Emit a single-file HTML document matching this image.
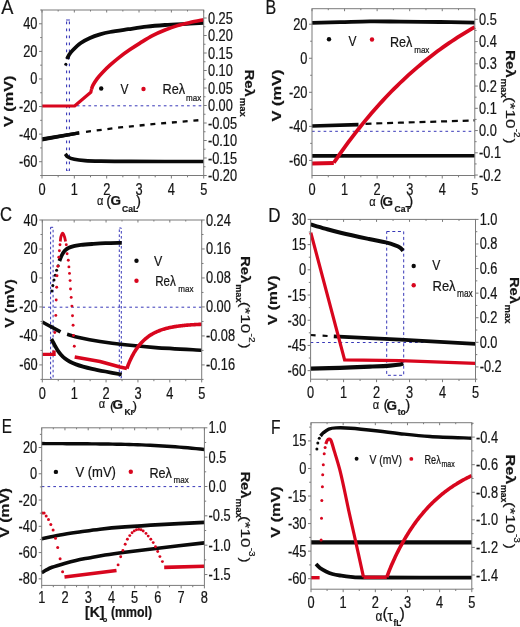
<!DOCTYPE html><html><head><meta charset="utf-8"><style>html,body{margin:0;padding:0;background:#fff;}svg{display:block;}text{font-family:"Liberation Sans",sans-serif;stroke:#151515;stroke-width:0.22px;}</style></head><body>
<svg style="will-change:transform" width="520" height="627" viewBox="0 0 520 627">
<rect width="520" height="627" fill="#fff"/>
<path d="M66.6,21.5 L66.6,170" fill="none" stroke="#3838b8" stroke-width="1.1" stroke-linecap="butt" stroke-linejoin="round" stroke-dasharray="2.8,4.2"/>
<path d="M69.4,21.5 L69.4,170" fill="none" stroke="#3838b8" stroke-width="1.1" stroke-linecap="butt" stroke-linejoin="round" stroke-dasharray="2.8,4.2"/>
<path d="M66.1,20 L69.9,20" fill="none" stroke="#3838b8" stroke-width="1" stroke-linecap="butt" stroke-linejoin="round"/>
<path d="M66.1,170.5 L69.9,170.5" fill="none" stroke="#3838b8" stroke-width="1" stroke-linecap="butt" stroke-linejoin="round" stroke-dasharray="1.5,1"/>
<path d="M42,105.8 L203.7,105.8" fill="none" stroke="#3838b8" stroke-width="1" stroke-linecap="butt" stroke-linejoin="round" stroke-dasharray="2.7,3.1"/>
<path d="M67,59 C67.33,58.33 68.08,56.42 69,55 C69.92,53.58 70.53,52.5 72.5,50.5 C74.47,48.5 77.88,45.08 80.8,43 C83.72,40.92 86.8,39.43 90,38 C93.2,36.57 96.67,35.4 100,34.4 C103.33,33.4 105.28,32.87 110,32 C114.72,31.13 122.2,30.1 128.3,29.2 C134.4,28.3 140.48,27.3 146.6,26.6 C152.72,25.9 157.77,25.5 165,25 C172.23,24.5 183.55,23.97 190,23.6 C196.45,23.23 201.42,22.93 203.7,22.8" fill="none" stroke="#0a0a0a" stroke-width="3.8" stroke-linecap="butt" stroke-linejoin="round"/>
<circle cx="65.8" cy="64.2" r="1.5" fill="#0a0a0a"/>
<path d="M42,137.2 L79.2,131.2 L79.2,134.6 L42,141.6 Z" fill="#0a0a0a"/>
<path d="M42,139.4 L79.2,132.9" fill="none" stroke="#0a0a0a" stroke-width="3.4" stroke-linecap="butt" stroke-linejoin="round"/>
<path d="M86,131.8 L120,127.4 L160,123.5 L203.7,119.8" fill="none" stroke="#0a0a0a" stroke-width="2.3" stroke-linecap="butt" stroke-linejoin="round" stroke-dasharray="5,5.8"/>
<path d="M65.3,153.8 C65.75,154.33 66.5,156.08 68,157 C69.5,157.92 71.47,158.7 74.3,159.3 C77.13,159.9 80.72,160.3 85,160.6 C89.28,160.9 92.5,160.97 100,161.1 C107.5,161.23 112.72,161.33 130,161.4 C147.28,161.47 191.42,161.48 203.7,161.5" fill="none" stroke="#0a0a0a" stroke-width="3.6" stroke-linecap="butt" stroke-linejoin="round"/>
<path d="M42,106 L74.6,106 L90.8,92.3 L91.5,89.2" fill="none" stroke="#d8061e" stroke-width="3.2" stroke-linecap="butt" stroke-linejoin="round"/>
<path d="M91.5,89.2 C91.75,88.53 92.08,86.93 93,85.2 C93.92,83.47 95.45,80.88 97,78.8 C98.55,76.72 100.13,74.97 102.3,72.7 C104.47,70.43 107.12,67.8 110,65.2 C112.88,62.6 116.27,59.7 119.6,57.1 C122.93,54.5 126.6,51.93 130,49.6 C133.4,47.27 136.25,45.43 140,43.1 C143.75,40.77 148.33,37.78 152.5,35.6 C156.67,33.42 160.83,31.67 165,30 C169.17,28.33 173.33,26.85 177.5,25.6 C181.67,24.35 185.63,23.48 190,22.5 C194.37,21.52 201.42,20.21 203.7,19.75" fill="none" stroke="#d8061e" stroke-width="3.6" stroke-linecap="butt" stroke-linejoin="round"/>
<circle cx="101.2" cy="88.5" r="2.2" fill="#0a0a0a"/>
<text transform="translate(120.6,93.9) scale(0.77,1)" font-size="15.5" font-weight="normal" text-anchor="start" fill="#151515">V</text>
<circle cx="143.5" cy="89" r="2.2" fill="#d8061e"/>
<text transform="translate(162.6,93.9) scale(0.82,1)" font-size="15.5" font-weight="normal" text-anchor="start" fill="#151515" textLength="27.56" lengthAdjust="spacingAndGlyphs">Reλ</text>
<text transform="translate(186,101.1) scale(0.82,1)" font-size="9.8" font-weight="normal" text-anchor="start" fill="#151515">max</text>
<path d="M312,131.3 L474.8,131.3" fill="none" stroke="#3838b8" stroke-width="1" stroke-linecap="butt" stroke-linejoin="round" stroke-dasharray="2.7,3.1"/>
<path d="M312,22.8 C316.67,22.7 330.33,22.43 340,22.2 C349.67,21.97 360,21.5 370,21.4 C380,21.3 388.33,21.5 400,21.6 C411.67,21.7 427.53,21.83 440,22 C452.47,22.17 469,22.5 474.8,22.6" fill="none" stroke="#0a0a0a" stroke-width="3.8" stroke-linecap="butt" stroke-linejoin="round"/>
<path d="M312,126 L358.5,124.6" fill="none" stroke="#0a0a0a" stroke-width="3.6" stroke-linecap="butt" stroke-linejoin="round"/>
<path d="M365.5,123.8 L400,122.7 L440,121.5 L474.8,120.4" fill="none" stroke="#0a0a0a" stroke-width="2.2" stroke-linecap="butt" stroke-linejoin="round" stroke-dasharray="6,4.8"/>
<path d="M312,155.9 L474.8,155.8" fill="none" stroke="#0a0a0a" stroke-width="3.6" stroke-linecap="butt" stroke-linejoin="round"/>
<path d="M312,163.5 L333.8,163" fill="none" stroke="#d8061e" stroke-width="3.8" stroke-linecap="butt" stroke-linejoin="round"/>
<path d="M333.8,162.78 L336.68,158.57 L339.56,154.43 L342.43,150.37 L345.31,146.38 L348.19,142.46 L351.07,138.61 L353.94,134.82 L356.82,131.11 L359.7,127.46 L362.58,123.88 L365.45,120.37 L368.33,116.92 L371.21,113.53 L374.09,110.21 L376.96,106.95 L379.84,103.75 L382.72,100.61 L385.6,97.53 L388.47,94.51 L391.35,91.55 L394.23,88.65 L397.11,85.8 L399.98,83 L402.86,80.26 L405.74,77.58 L408.62,74.95 L411.49,72.37 L414.37,69.84 L417.25,67.36 L420.13,64.93 L423,62.55 L425.88,60.21 L428.76,57.93 L431.64,55.69 L434.51,53.49 L437.39,51.34 L440.27,49.23 L443.15,47.17 L446.02,45.15 L448.9,43.16 L451.78,41.22 L454.66,39.32 L457.53,37.46 L460.41,35.63 L463.29,33.84 L466.17,32.09 L469.04,30.37 L471.92,28.68 L474.8,27.03" fill="none" stroke="#d8061e" stroke-width="3.8" stroke-linecap="butt" stroke-linejoin="round"/>
<circle cx="329" cy="39.3" r="2.2" fill="#0a0a0a"/>
<text transform="translate(348.4,46.3) scale(0.77,1)" font-size="15.5" font-weight="normal" text-anchor="start" fill="#151515">V</text>
<circle cx="372" cy="39.5" r="2.2" fill="#d8061e"/>
<text transform="translate(390,46.6) scale(0.82,1)" font-size="15.5" font-weight="normal" text-anchor="start" fill="#151515" textLength="27.32" lengthAdjust="spacingAndGlyphs">Reλ</text>
<text transform="translate(414.2,52.6) scale(0.82,1)" font-size="9.8" font-weight="normal" text-anchor="start" fill="#151515">max</text>
<rect x="50.6" y="227.3" width="2.5" height="151" fill="none" stroke="#3838b8" stroke-width="1" stroke-dasharray="2.6,2.4"/>
<rect x="119.3" y="228" width="2" height="150" fill="none" stroke="#3838b8" stroke-width="1" stroke-dasharray="2.6,2.4"/>
<path d="M42.3,307.2 L201.7,307.2" fill="none" stroke="#3838b8" stroke-width="1" stroke-linecap="butt" stroke-linejoin="round" stroke-dasharray="2.7,3.1"/>
<circle cx="51.8" cy="291" r="1.5" fill="#0a0a0a"/>
<circle cx="52.8" cy="285.4" r="1.5" fill="#0a0a0a"/>
<circle cx="54" cy="280" r="1.5" fill="#0a0a0a"/>
<circle cx="55.2" cy="275.2" r="1.5" fill="#0a0a0a"/>
<circle cx="56.6" cy="270.2" r="1.5" fill="#0a0a0a"/>
<circle cx="58.2" cy="265.7" r="1.5" fill="#0a0a0a"/>
<path d="M59.4,261 C59.78,260.08 60.82,257.22 61.7,255.5 C62.58,253.78 63.5,252 64.7,250.7 C65.9,249.4 67.2,248.5 68.9,247.7 C70.6,246.9 72.9,246.37 74.9,245.9 C76.9,245.43 78.05,245.22 80.9,244.9 C83.75,244.58 87.92,244.28 92,244 C96.08,243.72 100.45,243.4 105.4,243.2 C110.35,243 118.98,242.87 121.7,242.8" fill="none" stroke="#0a0a0a" stroke-width="3.8" stroke-linecap="butt" stroke-linejoin="round"/>
<path d="M42.3,322 C43.58,322.7 46.97,324.55 50,326.2 C53.03,327.85 58.75,330.95 60.5,331.9" fill="none" stroke="#0a0a0a" stroke-width="3.6" stroke-linecap="butt" stroke-linejoin="round"/>
<path d="M67.1,334.3 C69.25,334.88 74.52,336.6 80,337.8 C85.48,339 92.5,340.33 100,341.5 C107.5,342.67 115.72,343.78 125,344.8 C134.28,345.82 142.92,346.7 155.7,347.6 C168.48,348.5 194.03,349.77 201.7,350.2" fill="none" stroke="#0a0a0a" stroke-width="3.6" stroke-linecap="butt" stroke-linejoin="round"/>
<path d="M51.4,339 C51.75,339.67 52.78,341.67 53.5,343 C54.22,344.33 54.95,345.7 55.7,347 C56.45,348.3 57.12,349.52 58,350.8 C58.88,352.08 59.83,353.4 61,354.7 C62.17,356 63.5,357.42 65,358.6 C66.5,359.78 68.17,360.83 70,361.8 C71.83,362.77 73.83,363.6 76,364.4 C78.17,365.2 80.33,365.87 83,366.6 C85.67,367.33 88.27,367.98 92,368.8 C95.73,369.62 100.45,370.55 105.4,371.5 C110.35,372.45 118.98,374 121.7,374.5" fill="none" stroke="#0a0a0a" stroke-width="3.8" stroke-linecap="butt" stroke-linejoin="round"/>
<path d="M42.3,354.4 L54,354.4 L54,350.5" fill="none" stroke="#d8061e" stroke-width="3.4" stroke-linecap="butt" stroke-linejoin="miter"/>
<circle cx="60" cy="244.7" r="1.45" fill="#d8061e"/>
<circle cx="59.4" cy="250.7" r="1.45" fill="#d8061e"/>
<circle cx="58.8" cy="257.3" r="1.45" fill="#d8061e"/>
<circle cx="57.9" cy="266.3" r="1.45" fill="#d8061e"/>
<circle cx="57" cy="275.8" r="1.45" fill="#d8061e"/>
<circle cx="56.7" cy="287.2" r="1.45" fill="#d8061e"/>
<circle cx="56.2" cy="300" r="1.45" fill="#d8061e"/>
<circle cx="55.8" cy="315.4" r="1.45" fill="#d8061e"/>
<circle cx="54.8" cy="332.5" r="1.45" fill="#d8061e"/>
<circle cx="66.3" cy="244.7" r="1.45" fill="#d8061e"/>
<circle cx="67.1" cy="253.7" r="1.45" fill="#d8061e"/>
<circle cx="68.3" cy="260.3" r="1.45" fill="#d8061e"/>
<circle cx="68.9" cy="266.9" r="1.45" fill="#d8061e"/>
<circle cx="69.5" cy="273.4" r="1.45" fill="#d8061e"/>
<circle cx="70.1" cy="280.6" r="1.45" fill="#d8061e"/>
<circle cx="70.5" cy="289" r="1.45" fill="#d8061e"/>
<circle cx="71.2" cy="297.4" r="1.45" fill="#d8061e"/>
<circle cx="71.9" cy="306.1" r="1.45" fill="#d8061e"/>
<circle cx="72.5" cy="315.7" r="1.45" fill="#d8061e"/>
<circle cx="73.1" cy="325.3" r="1.45" fill="#d8061e"/>
<circle cx="73.5" cy="335.5" r="1.45" fill="#d8061e"/>
<circle cx="74.3" cy="346.2" r="1.45" fill="#d8061e"/>
<path d="M60.3,241.5 C60.42,240.67 60.6,237.88 61,236.5 C61.4,235.12 62.13,233.2 62.7,233.2 C63.27,233.2 63.92,235.12 64.4,236.5 C64.88,237.88 65.4,240.67 65.6,241.5" fill="none" stroke="#d8061e" stroke-width="2.8" stroke-linecap="butt" stroke-linejoin="round"/>
<path d="M74.7,357 L100,361.6 L120,367 L126.9,368.5" fill="none" stroke="#d8061e" stroke-width="3.6" stroke-linecap="butt" stroke-linejoin="round"/>
<path d="M126.9,368.55 L127.65,366.37 L128.4,364.41 L129.15,362.58 L129.9,360.85 L130.65,359.21 L131.4,357.66 L132.15,356.19 L132.9,354.79 L133.65,353.45 L134.4,352.18 L135.15,350.96 L135.9,349.81 L136.65,348.7 L137.4,347.64 L138.15,346.63 L138.9,345.67 L139.65,344.75 L140.4,343.87 L141.15,343.02 L141.9,342.22 L142.65,341.45 L143.4,340.71 L144.15,340 L144.9,339.33 L145.65,338.68 L146.4,338.06 L147.15,337.47 L147.9,336.9 L148.65,336.35 L149.4,335.83 L150.15,335.33 L150.9,334.85 L151.65,334.4 L152.4,333.96 L153.15,333.53 L153.9,333.13 L154.65,332.74 L155.4,332.37 L156.15,332.02 L156.9,331.68 L157.65,331.35 L158.4,331.04 L159.15,330.74 L159.9,330.45 L160.65,330.17 L161.4,329.91 L162.15,329.65 L162.9,329.41 L163.65,329.17 L164.4,328.95 L165.15,328.73 L165.9,328.53 L166.65,328.33 L167.4,328.14 L168.15,327.96 L168.9,327.78 L169.65,327.61 L170.4,327.45 L171.15,327.3 L171.9,327.15 L172.65,327.01 L173.4,326.87 L174.15,326.74 L174.9,326.61 L175.65,326.49 L176.4,326.38 L177.15,326.26 L177.9,326.16 L178.65,326.05 L179.4,325.96 L180.15,325.86 L180.9,325.77 L181.65,325.68 L182.4,325.6 L183.15,325.52 L183.9,325.44 L184.65,325.37 L185.4,325.3 L186.15,325.23 L186.9,325.16 L187.65,325.1 L188.4,325.04 L189.15,324.98 L189.9,324.92 L190.65,324.87 L191.4,324.82 L192.15,324.77 L192.9,324.72 L193.65,324.68 L194.4,324.63 L195.15,324.59 L195.9,324.55 L196.65,324.51 L197.4,324.47 L198.15,324.44 L198.9,324.4 L199.65,324.37 L200.4,324.34 L201.15,324.31 L201.9,324.28" fill="none" stroke="#d8061e" stroke-width="3.6" stroke-linecap="butt" stroke-linejoin="round"/>
<circle cx="136.5" cy="260.7" r="2.2" fill="#0a0a0a"/>
<text transform="translate(154,266) scale(0.8,1)" font-size="15.5" font-weight="normal" text-anchor="start" fill="#151515">V</text>
<circle cx="136.5" cy="280.7" r="2.2" fill="#d8061e"/>
<text transform="translate(155.2,286) scale(0.82,1)" font-size="15.5" font-weight="normal" text-anchor="start" fill="#151515" textLength="25.24" lengthAdjust="spacingAndGlyphs">Reλ</text>
<text transform="translate(178.3,292) scale(0.82,1)" font-size="9.8" font-weight="normal" text-anchor="start" fill="#151515">max</text>
<rect x="386.7" y="231.5" width="17" height="143.8" fill="none" stroke="#3838b8" stroke-width="1" stroke-dasharray="3,2.6"/>
<path d="M310.6,342.5 L475.5,342.5" fill="none" stroke="#3838b8" stroke-width="1" stroke-linecap="butt" stroke-linejoin="round" stroke-dasharray="2.7,3.1"/>
<path d="M310.6,224.3 C313,225.02 319.83,227.15 325,228.6 C330.17,230.05 334.27,231.27 341.6,233 C348.93,234.73 361.63,237.43 369,239 C376.37,240.57 381.3,241.3 385.8,242.4 C390.3,243.5 393.63,244.73 396,245.6 C398.37,246.47 398.8,246.77 400,247.6 C401.2,248.43 402.67,250.1 403.2,250.6" fill="none" stroke="#0a0a0a" stroke-width="4.0" stroke-linecap="butt" stroke-linejoin="round"/>
<path d="M310.6,335 L333.8,336.4" fill="none" stroke="#0a0a0a" stroke-width="2.2" stroke-linecap="butt" stroke-linejoin="round" stroke-dasharray="5,7"/>
<path d="M333.8,336.4 L400,339.7 L475.5,343.9" fill="none" stroke="#0a0a0a" stroke-width="3.8" stroke-linecap="butt" stroke-linejoin="round"/>
<path d="M310.6,368.6 C315.5,368.47 330.1,368.13 340,367.8 C349.9,367.47 361.67,366.97 370,366.6 C378.33,366.23 385,365.95 390,365.6 C395,365.25 397.8,364.9 400,364.5 C402.2,364.1 402.67,363.42 403.2,363.2" fill="none" stroke="#0a0a0a" stroke-width="4.2" stroke-linecap="butt" stroke-linejoin="round"/>
<path d="M310.8,232.6 L344.6,359.8 L400,360.6 L475.5,363.3" fill="none" stroke="#d8061e" stroke-width="3.2" stroke-linecap="butt" stroke-linejoin="miter"/>
<circle cx="413.7" cy="266" r="2.2" fill="#0a0a0a"/>
<text transform="translate(432.2,270.2) scale(0.78,1)" font-size="15.5" font-weight="normal" text-anchor="start" fill="#151515">V</text>
<circle cx="413.7" cy="285.3" r="2.2" fill="#d8061e"/>
<text transform="translate(432.5,290.8) scale(0.82,1)" font-size="15.5" font-weight="normal" text-anchor="start" fill="#151515" textLength="28.17" lengthAdjust="spacingAndGlyphs">Reλ</text>
<text transform="translate(457,297.1) scale(0.82,1)" font-size="10.2" font-weight="normal" text-anchor="start" fill="#151515">max</text>
<path d="M41.7,486.6 L204.4,486.6" fill="none" stroke="#3838b8" stroke-width="1" stroke-linecap="butt" stroke-linejoin="round" stroke-dasharray="2.7,3.1"/>
<path d="M41.7,443.55 L45.87,443.58 L50.04,443.6 L54.22,443.63 L58.39,443.65 L62.56,443.67 L66.73,443.69 L70.9,443.71 L75.07,443.73 L79.25,443.75 L83.42,443.78 L87.59,443.81 L91.76,443.84 L95.93,443.88 L100.11,443.93 L104.28,443.98 L108.45,444.05 L112.62,444.12 L116.79,444.2 L120.96,444.29 L125.14,444.39 L129.31,444.5 L133.48,444.63 L137.65,444.77 L141.82,444.92 L145.99,445.09 L150.17,445.27 L154.34,445.48 L158.51,445.7 L162.68,445.94 L166.85,446.19 L171.03,446.47 L175.2,446.77 L179.37,447.1 L183.54,447.44 L187.71,447.81 L191.88,448.2 L196.06,448.62 L200.23,449.06 L204.4,449.53" fill="none" stroke="#0a0a0a" stroke-width="3.4" stroke-linecap="butt" stroke-linejoin="round"/>
<path d="M41.7,538.8 C44.75,538.17 53.47,536.17 60,535 C66.53,533.83 74.23,532.77 80.9,531.8 C87.57,530.83 92.65,530.02 100,529.2 C107.35,528.38 115,527.67 125,526.9 C135,526.13 146.77,525.35 160,524.6 C173.23,523.85 197,522.77 204.4,522.4" fill="none" stroke="#0a0a0a" stroke-width="3.6" stroke-linecap="butt" stroke-linejoin="round"/>
<path d="M41.7,572.8 C42.42,572.37 44.28,571.12 46,570.2 C47.72,569.28 48.92,568.43 52,567.3 C55.08,566.17 60.5,564.55 64.5,563.4 C68.5,562.25 71.92,561.32 76,560.4 C80.08,559.48 84.17,558.8 89,557.9 C93.83,557 99,555.95 105,555 C111,554.05 115.83,553.37 125,552.2 C134.17,551.03 146.77,549.55 160,548 C173.23,546.45 197,543.75 204.4,542.9" fill="none" stroke="#0a0a0a" stroke-width="3.6" stroke-linecap="butt" stroke-linejoin="round"/>
<circle cx="42.5" cy="513" r="1.5" fill="#d8061e"/>
<circle cx="44.1" cy="513" r="1.5" fill="#d8061e"/>
<circle cx="46.2" cy="515.9" r="1.5" fill="#d8061e"/>
<circle cx="48.5" cy="519.5" r="1.5" fill="#d8061e"/>
<circle cx="50.8" cy="524.4" r="1.5" fill="#d8061e"/>
<circle cx="53.1" cy="530.1" r="1.5" fill="#d8061e"/>
<circle cx="55.5" cy="538.3" r="1.5" fill="#d8061e"/>
<circle cx="57.7" cy="547.6" r="1.5" fill="#d8061e"/>
<circle cx="60.1" cy="558.7" r="1.5" fill="#d8061e"/>
<circle cx="62.6" cy="571.8" r="1.5" fill="#d8061e"/>
<path d="M64.5,577 L116.5,570.5" fill="none" stroke="#d8061e" stroke-width="3.6" stroke-linecap="butt" stroke-linejoin="round"/>
<circle cx="118.1" cy="564.9" r="1.45" fill="#d8061e"/>
<circle cx="120.7" cy="556.8" r="1.45" fill="#d8061e"/>
<circle cx="122.9" cy="550.4" r="1.45" fill="#d8061e"/>
<circle cx="125.2" cy="544.3" r="1.45" fill="#d8061e"/>
<circle cx="127.4" cy="539.3" r="1.45" fill="#d8061e"/>
<circle cx="129.8" cy="535.6" r="1.45" fill="#d8061e"/>
<circle cx="132.1" cy="532.8" r="1.45" fill="#d8061e"/>
<circle cx="134.3" cy="530.9" r="1.45" fill="#d8061e"/>
<circle cx="136.5" cy="529.8" r="1.45" fill="#d8061e"/>
<circle cx="138.8" cy="529.4" r="1.45" fill="#d8061e"/>
<circle cx="141" cy="529.8" r="1.45" fill="#d8061e"/>
<circle cx="143.2" cy="531" r="1.45" fill="#d8061e"/>
<circle cx="146" cy="533.4" r="1.45" fill="#d8061e"/>
<circle cx="148.2" cy="536.1" r="1.45" fill="#d8061e"/>
<circle cx="150.8" cy="539.3" r="1.45" fill="#d8061e"/>
<circle cx="153.2" cy="542.6" r="1.45" fill="#d8061e"/>
<circle cx="155.5" cy="546.7" r="1.45" fill="#d8061e"/>
<circle cx="157.7" cy="551.5" r="1.45" fill="#d8061e"/>
<circle cx="159.9" cy="556.6" r="1.45" fill="#d8061e"/>
<circle cx="162.4" cy="561.6" r="1.45" fill="#d8061e"/>
<path d="M164.2,567.4 L204.4,566.2" fill="none" stroke="#d8061e" stroke-width="3.6" stroke-linecap="butt" stroke-linejoin="round"/>
<circle cx="55.9" cy="471.9" r="2.2" fill="#0a0a0a"/>
<text transform="translate(75.4,477.3) scale(0.87,1)" font-size="15" fill="#151515">V (mV)</text>
<circle cx="130.8" cy="471.7" r="2.2" fill="#d8061e"/>
<text transform="translate(149.4,477.5) scale(0.82,1)" font-size="15.5" font-weight="normal" text-anchor="start" fill="#151515" textLength="27.44" lengthAdjust="spacingAndGlyphs">Reλ</text>
<text transform="translate(173.5,483.3) scale(0.82,1)" font-size="9.8" font-weight="normal" text-anchor="start" fill="#151515">max</text>
<circle cx="316.9" cy="448.9" r="1.5" fill="#0a0a0a"/>
<circle cx="317.8" cy="442.9" r="1.5" fill="#0a0a0a"/>
<circle cx="319.3" cy="438.3" r="1.5" fill="#0a0a0a"/>
<path d="M320.5,436 C320.97,435.47 321.92,433.95 323.3,432.8 C324.68,431.65 326.67,429.92 328.8,429.1 C330.93,428.28 332.45,428.05 336.1,427.9 C339.75,427.75 343.7,427.68 350.7,428.2 C357.7,428.72 369.88,430.08 378.1,431 C386.32,431.92 391.35,432.78 400,433.7 C408.65,434.62 418.03,435.75 430,436.5 C441.97,437.25 464.83,437.92 471.8,438.2" fill="none" stroke="#0a0a0a" stroke-width="3.4" stroke-linecap="butt" stroke-linejoin="round"/>
<path d="M311,542.4 L471.8,542.4" fill="none" stroke="#0a0a0a" stroke-width="4.2" stroke-linecap="butt" stroke-linejoin="round"/>
<path d="M316,564 C316.67,564.67 318.33,566.75 320,568 C321.67,569.25 323.93,570.5 326,571.5 C328.07,572.5 330.07,573.33 332.4,574 C334.73,574.67 336.95,575.03 340,575.5 C343.05,575.97 345.7,576.47 350.7,576.8 C355.7,577.13 349.82,577.37 370,577.5 C390.18,577.63 454.83,577.58 471.8,577.6" fill="none" stroke="#0a0a0a" stroke-width="3.8" stroke-linecap="butt" stroke-linejoin="round"/>
<path d="M311,577.7 L319.6,577.7" fill="none" stroke="#d8061e" stroke-width="3.4" stroke-linecap="butt" stroke-linejoin="round"/>
<circle cx="321.1" cy="539.9" r="1.5" fill="#d8061e"/>
<circle cx="321.5" cy="518.3" r="1.5" fill="#d8061e"/>
<circle cx="321.8" cy="500.4" r="1.5" fill="#d8061e"/>
<circle cx="322.4" cy="486.7" r="1.5" fill="#d8061e"/>
<circle cx="322.7" cy="474.8" r="1.5" fill="#d8061e"/>
<circle cx="323.3" cy="464.8" r="1.5" fill="#d8061e"/>
<circle cx="324.2" cy="453.8" r="1.5" fill="#d8061e"/>
<circle cx="325.1" cy="447.4" r="1.5" fill="#d8061e"/>
<path d="M325.8,444 C326.03,443.42 326.7,441.3 327.2,440.5 C327.7,439.7 328.17,439.2 328.8,439.2 C329.43,439.2 330.08,438.52 331,440.5 C331.92,442.48 332.85,446.28 334.3,451.1 C335.75,455.92 338.03,463 339.7,469.4 C341.37,475.8 342.77,482.5 344.3,489.5 C345.83,496.5 347.28,503.98 348.9,511.4 C350.52,518.82 351.57,523.05 354,534 C356.43,544.95 361.92,569.92 363.5,577.1" fill="none" stroke="#d8061e" stroke-width="3.2" stroke-linecap="butt" stroke-linejoin="round"/>
<path d="M363.5,577.3 L386.8,577.3" fill="none" stroke="#d8061e" stroke-width="3.4" stroke-linecap="butt" stroke-linejoin="round"/>
<path d="M386.8,577.27 L387.65,574.85 L388.5,572.61 L389.35,570.45 L390.2,568.35 L391.05,566.32 L391.9,564.33 L392.75,562.4 L393.6,560.5 L394.45,558.65 L395.3,556.83 L396.15,555.06 L397,553.31 L397.85,551.61 L398.7,549.93 L399.55,548.29 L400.4,546.68 L401.25,545.1 L402.1,543.55 L402.95,542.03 L403.8,540.53 L404.65,539.06 L405.5,537.62 L406.35,536.21 L407.2,534.82 L408.05,533.45 L408.9,532.11 L409.75,530.79 L410.6,529.5 L411.45,528.23 L412.3,526.98 L413.15,525.75 L414,524.54 L414.85,523.35 L415.7,522.18 L416.55,521.04 L417.4,519.91 L418.25,518.8 L419.1,517.71 L419.95,516.64 L420.8,515.59 L421.65,514.55 L422.5,513.53 L423.35,512.53 L424.2,511.54 L425.05,510.58 L425.9,509.62 L426.75,508.69 L427.6,507.76 L428.45,506.86 L429.3,505.97 L430.15,505.09 L431,504.23 L431.85,503.38 L432.7,502.54 L433.55,501.72 L434.4,500.91 L435.25,500.12 L436.1,499.34 L436.95,498.57 L437.8,497.81 L438.65,497.07 L439.5,496.33 L440.35,495.61 L441.2,494.9 L442.05,494.2 L442.9,493.52 L443.75,492.84 L444.6,492.18 L445.45,491.52 L446.3,490.88 L447.15,490.25 L448,489.62 L448.85,489.01 L449.7,488.4 L450.55,487.81 L451.4,487.23 L452.25,486.65 L453.1,486.08 L453.95,485.53 L454.8,484.98 L455.65,484.44 L456.5,483.91 L457.35,483.38 L458.2,482.87 L459.05,482.36 L459.9,481.86 L460.75,481.37 L461.6,480.89 L462.45,480.41 L463.3,479.95 L464.15,479.49 L465,479.03 L465.85,478.59 L466.7,478.15 L467.55,477.71 L468.4,477.29 L469.25,476.87 L470.1,476.46 L470.95,476.05 L471.8,475.65" fill="none" stroke="#d8061e" stroke-width="3.6" stroke-linecap="butt" stroke-linejoin="round"/>
<circle cx="356.6" cy="458.8" r="1.95" fill="#0a0a0a"/>
<text transform="translate(369.5,463.6) scale(0.87,1)" font-size="12" fill="#151515">V (mV)</text>
<circle cx="411.3" cy="458.9" r="1.95" fill="#d8061e"/>
<text transform="translate(424.5,463.8) scale(0.82,1)" font-size="12" font-weight="normal" text-anchor="start" fill="#151515" textLength="19.76" lengthAdjust="spacingAndGlyphs">Reλ</text>
<text transform="translate(441.5,467.3) scale(0.82,1)" font-size="8.5" font-weight="normal" text-anchor="start" fill="#151515">max</text>
<rect x="42" y="10" width="161.7" height="165.5" fill="none" stroke="#7a7a7a" stroke-width="1"/>
<path d="M42,175.5v3M42,10v2.5M74.34,175.5v3M74.34,10v2.5M106.68,175.5v3M106.68,10v2.5M139.02,175.5v3M139.02,10v2.5M171.36,175.5v3M171.36,10v2.5M203.7,175.5v3M203.7,10v2.5M58.17,175.5v1.8M58.17,10v1.5M90.51,175.5v1.8M90.51,10v1.5M122.85,175.5v1.8M122.85,10v1.5M155.19,175.5v1.8M155.19,10v1.5M187.53,175.5v1.8M187.53,10v1.5M42,161.71h-3M42,134.12h-3M42,106.54h-3M42,78.96h-3M42,51.38h-3M42,23.79h-3M42,175.5h-1.8M42,147.92h-1.8M42,120.33h-1.8M42,92.75h-1.8M42,65.17h-1.8M42,37.58h-1.8M42,10h-1.8M203.7,175.5h3M203.7,158h3M203.7,140.5h3M203.7,123h3M203.7,105.51h3M203.7,88.01h3M203.7,70.51h3M203.7,53.01h3M203.7,35.51h3M203.7,18.01h3M203.7,166.75h1.8M203.7,149.25h1.8M203.7,131.75h1.8M203.7,114.26h1.8M203.7,96.76h1.8M203.7,79.26h1.8M203.7,61.76h1.8M203.7,44.26h1.8M203.7,26.76h1.8" stroke="#7a7a7a" stroke-width="1" fill="none"/>
<text transform="translate(42,194.9) scale(0.8,1)" font-size="16" font-weight="normal" text-anchor="middle" fill="#151515" >0</text>
<text transform="translate(74.34,194.9) scale(0.8,1)" font-size="16" font-weight="normal" text-anchor="middle" fill="#151515" >1</text>
<text transform="translate(106.68,194.9) scale(0.8,1)" font-size="16" font-weight="normal" text-anchor="middle" fill="#151515" >2</text>
<text transform="translate(139.02,194.9) scale(0.8,1)" font-size="16" font-weight="normal" text-anchor="middle" fill="#151515" >3</text>
<text transform="translate(171.36,194.9) scale(0.8,1)" font-size="16" font-weight="normal" text-anchor="middle" fill="#151515" >4</text>
<text transform="translate(203.7,194.9) scale(0.8,1)" font-size="16" font-weight="normal" text-anchor="middle" fill="#151515" >5</text>
<text transform="translate(37.4,167.21) scale(0.8,1)" font-size="16" font-weight="normal" text-anchor="end" fill="#151515" >-60</text>
<text transform="translate(37.4,139.62) scale(0.8,1)" font-size="16" font-weight="normal" text-anchor="end" fill="#151515" >-40</text>
<text transform="translate(37.4,112.04) scale(0.8,1)" font-size="16" font-weight="normal" text-anchor="end" fill="#151515" >-20</text>
<text transform="translate(37.4,84.46) scale(0.8,1)" font-size="16" font-weight="normal" text-anchor="end" fill="#151515" >0</text>
<text transform="translate(37.4,56.88) scale(0.8,1)" font-size="16" font-weight="normal" text-anchor="end" fill="#151515" >20</text>
<text transform="translate(37.4,29.29) scale(0.8,1)" font-size="16" font-weight="normal" text-anchor="end" fill="#151515" >40</text>
<text transform="translate(207.9,181) scale(0.8,1)" font-size="16" font-weight="normal" text-anchor="start" fill="#151515" >-0.20</text>
<text transform="translate(207.9,163.5) scale(0.8,1)" font-size="16" font-weight="normal" text-anchor="start" fill="#151515" >-0.15</text>
<text transform="translate(207.9,146) scale(0.8,1)" font-size="16" font-weight="normal" text-anchor="start" fill="#151515" >-0.10</text>
<text transform="translate(207.9,128.5) scale(0.8,1)" font-size="16" font-weight="normal" text-anchor="start" fill="#151515" >-0.05</text>
<text transform="translate(207.9,111.01) scale(0.8,1)" font-size="16" font-weight="normal" text-anchor="start" fill="#151515" >0.00</text>
<text transform="translate(207.9,93.51) scale(0.8,1)" font-size="16" font-weight="normal" text-anchor="start" fill="#151515" >0.05</text>
<text transform="translate(207.9,76.01) scale(0.8,1)" font-size="16" font-weight="normal" text-anchor="start" fill="#151515" >0.10</text>
<text transform="translate(207.9,58.51) scale(0.8,1)" font-size="16" font-weight="normal" text-anchor="start" fill="#151515" >0.15</text>
<text transform="translate(207.9,41.01) scale(0.8,1)" font-size="16" font-weight="normal" text-anchor="start" fill="#151515" >0.20</text>
<text transform="translate(207.9,23.51) scale(0.8,1)" font-size="16" font-weight="normal" text-anchor="start" fill="#151515" >0.25</text>
<rect x="312" y="8.7" width="162.8" height="166.8" fill="none" stroke="#7a7a7a" stroke-width="1"/>
<path d="M312,175.5v3M312,8.7v2.5M344.56,175.5v3M344.56,8.7v2.5M377.12,175.5v3M377.12,8.7v2.5M409.68,175.5v3M409.68,8.7v2.5M442.24,175.5v3M442.24,8.7v2.5M474.8,175.5v3M474.8,8.7v2.5M328.28,175.5v1.8M328.28,8.7v1.5M360.84,175.5v1.8M360.84,8.7v1.5M393.4,175.5v1.8M393.4,8.7v1.5M425.96,175.5v1.8M425.96,8.7v1.5M458.52,175.5v1.8M458.52,8.7v1.5M312,160.4h-3M312,126.35h-3M312,92.3h-3M312,58.25h-3M312,24.2h-3M312,143.37h-1.8M312,109.32h-1.8M312,75.27h-1.8M312,41.22h-1.8M474.8,175.05h3M474.8,152.8h3M474.8,130.55h3M474.8,108.3h3M474.8,86.05h3M474.8,63.8h3M474.8,41.55h3M474.8,19.3h3M474.8,163.93h1.8M474.8,141.68h1.8M474.8,119.42h1.8M474.8,97.17h1.8M474.8,74.92h1.8M474.8,52.67h1.8M474.8,30.42h1.8" stroke="#7a7a7a" stroke-width="1" fill="none"/>
<text transform="translate(312,195.3) scale(0.8,1)" font-size="16" font-weight="normal" text-anchor="middle" fill="#151515" >0</text>
<text transform="translate(344.56,195.3) scale(0.8,1)" font-size="16" font-weight="normal" text-anchor="middle" fill="#151515" >1</text>
<text transform="translate(377.12,195.3) scale(0.8,1)" font-size="16" font-weight="normal" text-anchor="middle" fill="#151515" >2</text>
<text transform="translate(409.68,195.3) scale(0.8,1)" font-size="16" font-weight="normal" text-anchor="middle" fill="#151515" >3</text>
<text transform="translate(442.24,195.3) scale(0.8,1)" font-size="16" font-weight="normal" text-anchor="middle" fill="#151515" >4</text>
<text transform="translate(474.8,195.3) scale(0.8,1)" font-size="16" font-weight="normal" text-anchor="middle" fill="#151515" >5</text>
<text transform="translate(307.4,165.9) scale(0.8,1)" font-size="16" font-weight="normal" text-anchor="end" fill="#151515" >-60</text>
<text transform="translate(307.4,131.85) scale(0.8,1)" font-size="16" font-weight="normal" text-anchor="end" fill="#151515" >-40</text>
<text transform="translate(307.4,97.8) scale(0.8,1)" font-size="16" font-weight="normal" text-anchor="end" fill="#151515" >-20</text>
<text transform="translate(307.4,63.75) scale(0.8,1)" font-size="16" font-weight="normal" text-anchor="end" fill="#151515" >0</text>
<text transform="translate(307.4,29.7) scale(0.8,1)" font-size="16" font-weight="normal" text-anchor="end" fill="#151515" >20</text>
<text transform="translate(479,180.55) scale(0.8,1)" font-size="16" font-weight="normal" text-anchor="start" fill="#151515" >-0.2</text>
<text transform="translate(479,158.3) scale(0.8,1)" font-size="16" font-weight="normal" text-anchor="start" fill="#151515" >-0.1</text>
<text transform="translate(479,136.05) scale(0.8,1)" font-size="16" font-weight="normal" text-anchor="start" fill="#151515" >0.0</text>
<text transform="translate(479,113.8) scale(0.8,1)" font-size="16" font-weight="normal" text-anchor="start" fill="#151515" >0.1</text>
<text transform="translate(479,91.55) scale(0.8,1)" font-size="16" font-weight="normal" text-anchor="start" fill="#151515" >0.2</text>
<text transform="translate(479,69.3) scale(0.8,1)" font-size="16" font-weight="normal" text-anchor="start" fill="#151515" >0.3</text>
<text transform="translate(479,47.05) scale(0.8,1)" font-size="16" font-weight="normal" text-anchor="start" fill="#151515" >0.4</text>
<text transform="translate(479,24.8) scale(0.8,1)" font-size="16" font-weight="normal" text-anchor="start" fill="#151515" >0.5</text>
<rect x="42.3" y="220" width="159.4" height="159.4" fill="none" stroke="#7a7a7a" stroke-width="1"/>
<path d="M42.3,379.4v3M42.3,220v2.5M74.18,379.4v3M74.18,220v2.5M106.06,379.4v3M106.06,220v2.5M137.94,379.4v3M137.94,220v2.5M169.82,379.4v3M169.82,220v2.5M201.7,379.4v3M201.7,220v2.5M58.24,379.4v1.8M58.24,220v1.5M90.12,379.4v1.8M90.12,220v1.5M122,379.4v1.8M122,220v1.5M153.88,379.4v1.8M153.88,220v1.5M185.76,379.4v1.8M185.76,220v1.5M42.3,364.91h-3M42.3,335.93h-3M42.3,306.95h-3M42.3,277.96h-3M42.3,248.98h-3M42.3,220h-3M42.3,379.4h-1.8M42.3,350.42h-1.8M42.3,321.44h-1.8M42.3,292.45h-1.8M42.3,263.47h-1.8M42.3,234.49h-1.8M201.7,364.91h3M201.7,335.93h3M201.7,306.95h3M201.7,277.96h3M201.7,248.98h3M201.7,220h3M201.7,379.4h1.8M201.7,350.42h1.8M201.7,321.44h1.8M201.7,292.45h1.8M201.7,263.47h1.8M201.7,234.49h1.8" stroke="#7a7a7a" stroke-width="1" fill="none"/>
<text transform="translate(42.3,398.8) scale(0.8,1)" font-size="16" font-weight="normal" text-anchor="middle" fill="#151515" >0</text>
<text transform="translate(74.18,398.8) scale(0.8,1)" font-size="16" font-weight="normal" text-anchor="middle" fill="#151515" >1</text>
<text transform="translate(106.06,398.8) scale(0.8,1)" font-size="16" font-weight="normal" text-anchor="middle" fill="#151515" >2</text>
<text transform="translate(137.94,398.8) scale(0.8,1)" font-size="16" font-weight="normal" text-anchor="middle" fill="#151515" >3</text>
<text transform="translate(169.82,398.8) scale(0.8,1)" font-size="16" font-weight="normal" text-anchor="middle" fill="#151515" >4</text>
<text transform="translate(201.7,398.8) scale(0.8,1)" font-size="16" font-weight="normal" text-anchor="middle" fill="#151515" >5</text>
<text transform="translate(37.7,370.41) scale(0.8,1)" font-size="16" font-weight="normal" text-anchor="end" fill="#151515" >-60</text>
<text transform="translate(37.7,341.43) scale(0.8,1)" font-size="16" font-weight="normal" text-anchor="end" fill="#151515" >-40</text>
<text transform="translate(37.7,312.45) scale(0.8,1)" font-size="16" font-weight="normal" text-anchor="end" fill="#151515" >-20</text>
<text transform="translate(37.7,283.46) scale(0.8,1)" font-size="16" font-weight="normal" text-anchor="end" fill="#151515" >0</text>
<text transform="translate(37.7,254.48) scale(0.8,1)" font-size="16" font-weight="normal" text-anchor="end" fill="#151515" >20</text>
<text transform="translate(37.7,225.5) scale(0.8,1)" font-size="16" font-weight="normal" text-anchor="end" fill="#151515" >40</text>
<text transform="translate(205.9,370.41) scale(0.8,1)" font-size="16" font-weight="normal" text-anchor="start" fill="#151515" >-0.16</text>
<text transform="translate(205.9,341.43) scale(0.8,1)" font-size="16" font-weight="normal" text-anchor="start" fill="#151515" >-0.08</text>
<text transform="translate(205.9,312.45) scale(0.8,1)" font-size="16" font-weight="normal" text-anchor="start" fill="#151515" >0.00</text>
<text transform="translate(205.9,283.46) scale(0.8,1)" font-size="16" font-weight="normal" text-anchor="start" fill="#151515" >0.08</text>
<text transform="translate(205.9,254.48) scale(0.8,1)" font-size="16" font-weight="normal" text-anchor="start" fill="#151515" >0.16</text>
<text transform="translate(205.9,225.5) scale(0.8,1)" font-size="16" font-weight="normal" text-anchor="start" fill="#151515" >0.24</text>
<rect x="310.6" y="219.4" width="164.9" height="159.8" fill="none" stroke="#7a7a7a" stroke-width="1"/>
<path d="M310.6,379.2v3M310.6,219.4v2.5M343.58,379.2v3M343.58,219.4v2.5M376.56,379.2v3M376.56,219.4v2.5M409.54,379.2v3M409.54,219.4v2.5M442.52,379.2v3M442.52,219.4v2.5M475.5,379.2v3M475.5,219.4v2.5M327.09,379.2v1.8M327.09,219.4v1.5M360.07,379.2v1.8M360.07,219.4v1.5M393.05,379.2v1.8M393.05,219.4v1.5M426.03,379.2v1.8M426.03,219.4v1.5M459.01,379.2v1.8M459.01,219.4v1.5M310.6,370.63h-3M310.6,345.43h-3M310.6,320.22h-3M310.6,295.02h-3M310.6,269.81h-3M310.6,244.61h-3M310.6,219.4h-3M310.6,358.03h-1.8M310.6,332.82h-1.8M310.6,307.62h-1.8M310.6,282.41h-1.8M310.6,257.21h-1.8M310.6,232h-1.8M475.5,366.91h3M475.5,342.32h3M475.5,317.74h3M475.5,293.15h3M475.5,268.57h3M475.5,243.98h3M475.5,219.4h3M475.5,379.2h1.8M475.5,354.62h1.8M475.5,330.03h1.8M475.5,305.45h1.8M475.5,280.86h1.8M475.5,256.28h1.8M475.5,231.69h1.8" stroke="#7a7a7a" stroke-width="1" fill="none"/>
<text transform="translate(310.6,397.8) scale(0.8,1)" font-size="16" font-weight="normal" text-anchor="middle" fill="#151515" >0</text>
<text transform="translate(343.58,397.8) scale(0.8,1)" font-size="16" font-weight="normal" text-anchor="middle" fill="#151515" >1</text>
<text transform="translate(376.56,397.8) scale(0.8,1)" font-size="16" font-weight="normal" text-anchor="middle" fill="#151515" >2</text>
<text transform="translate(409.54,397.8) scale(0.8,1)" font-size="16" font-weight="normal" text-anchor="middle" fill="#151515" >3</text>
<text transform="translate(442.52,397.8) scale(0.8,1)" font-size="16" font-weight="normal" text-anchor="middle" fill="#151515" >4</text>
<text transform="translate(475.5,397.8) scale(0.8,1)" font-size="16" font-weight="normal" text-anchor="middle" fill="#151515" >5</text>
<text transform="translate(306,376.13) scale(0.8,1)" font-size="16" font-weight="normal" text-anchor="end" fill="#151515" >-60</text>
<text transform="translate(306,350.93) scale(0.8,1)" font-size="16" font-weight="normal" text-anchor="end" fill="#151515" >-45</text>
<text transform="translate(306,325.72) scale(0.8,1)" font-size="16" font-weight="normal" text-anchor="end" fill="#151515" >-30</text>
<text transform="translate(306,300.52) scale(0.8,1)" font-size="16" font-weight="normal" text-anchor="end" fill="#151515" >-15</text>
<text transform="translate(306,275.31) scale(0.8,1)" font-size="16" font-weight="normal" text-anchor="end" fill="#151515" >0</text>
<text transform="translate(306,250.11) scale(0.8,1)" font-size="16" font-weight="normal" text-anchor="end" fill="#151515" >15</text>
<text transform="translate(306,224.9) scale(0.8,1)" font-size="16" font-weight="normal" text-anchor="end" fill="#151515" >30</text>
<text transform="translate(479.7,372.41) scale(0.8,1)" font-size="16" font-weight="normal" text-anchor="start" fill="#151515" >-0.2</text>
<text transform="translate(479.7,347.82) scale(0.8,1)" font-size="16" font-weight="normal" text-anchor="start" fill="#151515" >0.0</text>
<text transform="translate(479.7,323.24) scale(0.8,1)" font-size="16" font-weight="normal" text-anchor="start" fill="#151515" >0.2</text>
<text transform="translate(479.7,298.65) scale(0.8,1)" font-size="16" font-weight="normal" text-anchor="start" fill="#151515" >0.4</text>
<text transform="translate(479.7,274.07) scale(0.8,1)" font-size="16" font-weight="normal" text-anchor="start" fill="#151515" >0.6</text>
<text transform="translate(479.7,249.48) scale(0.8,1)" font-size="16" font-weight="normal" text-anchor="start" fill="#151515" >0.8</text>
<text transform="translate(479.7,224.9) scale(0.8,1)" font-size="16" font-weight="normal" text-anchor="start" fill="#151515" >1.0</text>
<rect x="41.7" y="427.8" width="162.7" height="157.6" fill="none" stroke="#7a7a7a" stroke-width="1"/>
<path d="M41.7,585.4v3M41.7,427.8v2.5M64.94,585.4v3M64.94,427.8v2.5M88.19,585.4v3M88.19,427.8v2.5M111.43,585.4v3M111.43,427.8v2.5M134.67,585.4v3M134.67,427.8v2.5M157.91,585.4v3M157.91,427.8v2.5M181.16,585.4v3M181.16,427.8v2.5M204.4,585.4v3M204.4,427.8v2.5M53.32,585.4v1.8M53.32,427.8v1.5M76.56,585.4v1.8M76.56,427.8v1.5M99.81,585.4v1.8M99.81,427.8v1.5M123.05,585.4v1.8M123.05,427.8v1.5M146.29,585.4v1.8M146.29,427.8v1.5M169.54,585.4v1.8M169.54,427.8v1.5M192.78,585.4v1.8M192.78,427.8v1.5M41.7,578.83h-3M41.7,552.57h-3M41.7,526.3h-3M41.7,500.03h-3M41.7,473.77h-3M41.7,447.5h-3M41.7,565.7h-1.8M41.7,539.43h-1.8M41.7,513.17h-1.8M41.7,486.9h-1.8M41.7,460.63h-1.8M41.7,434.37h-1.8M204.4,574.54h3M204.4,545.19h3M204.4,515.84h3M204.4,486.5h3M204.4,457.15h3M204.4,427.8h3M204.4,559.87h1.8M204.4,530.52h1.8M204.4,501.17h1.8M204.4,471.82h1.8M204.4,442.47h1.8" stroke="#7a7a7a" stroke-width="1" fill="none"/>
<text transform="translate(41.7,603) scale(0.8,1)" font-size="16" font-weight="normal" text-anchor="middle" fill="#151515" >1</text>
<text transform="translate(64.94,603) scale(0.8,1)" font-size="16" font-weight="normal" text-anchor="middle" fill="#151515" >2</text>
<text transform="translate(88.19,603) scale(0.8,1)" font-size="16" font-weight="normal" text-anchor="middle" fill="#151515" >3</text>
<text transform="translate(111.43,603) scale(0.8,1)" font-size="16" font-weight="normal" text-anchor="middle" fill="#151515" >4</text>
<text transform="translate(134.67,603) scale(0.8,1)" font-size="16" font-weight="normal" text-anchor="middle" fill="#151515" >5</text>
<text transform="translate(157.91,603) scale(0.8,1)" font-size="16" font-weight="normal" text-anchor="middle" fill="#151515" >6</text>
<text transform="translate(181.16,603) scale(0.8,1)" font-size="16" font-weight="normal" text-anchor="middle" fill="#151515" >7</text>
<text transform="translate(204.4,603) scale(0.8,1)" font-size="16" font-weight="normal" text-anchor="middle" fill="#151515" >8</text>
<text transform="translate(37.1,584.33) scale(0.8,1)" font-size="16" font-weight="normal" text-anchor="end" fill="#151515" >-80</text>
<text transform="translate(37.1,558.07) scale(0.8,1)" font-size="16" font-weight="normal" text-anchor="end" fill="#151515" >-60</text>
<text transform="translate(37.1,531.8) scale(0.8,1)" font-size="16" font-weight="normal" text-anchor="end" fill="#151515" >-40</text>
<text transform="translate(37.1,505.53) scale(0.8,1)" font-size="16" font-weight="normal" text-anchor="end" fill="#151515" >-20</text>
<text transform="translate(37.1,479.27) scale(0.8,1)" font-size="16" font-weight="normal" text-anchor="end" fill="#151515" >0</text>
<text transform="translate(37.1,453) scale(0.8,1)" font-size="16" font-weight="normal" text-anchor="end" fill="#151515" >20</text>
<text transform="translate(208.6,580.04) scale(0.8,1)" font-size="16" font-weight="normal" text-anchor="start" fill="#151515" >-1.5</text>
<text transform="translate(208.6,550.69) scale(0.8,1)" font-size="16" font-weight="normal" text-anchor="start" fill="#151515" >-1.0</text>
<text transform="translate(208.6,521.34) scale(0.8,1)" font-size="16" font-weight="normal" text-anchor="start" fill="#151515" >-0.5</text>
<text transform="translate(208.6,492) scale(0.8,1)" font-size="16" font-weight="normal" text-anchor="start" fill="#151515" >0.0</text>
<text transform="translate(208.6,462.65) scale(0.8,1)" font-size="16" font-weight="normal" text-anchor="start" fill="#151515" >0.5</text>
<text transform="translate(208.6,433.3) scale(0.8,1)" font-size="16" font-weight="normal" text-anchor="start" fill="#151515" >1.0</text>
<rect x="311" y="422.7" width="160.8" height="166.5" fill="none" stroke="#7a7a7a" stroke-width="1"/>
<path d="M311,589.2v3M311,422.7v2.5M343.16,589.2v3M343.16,422.7v2.5M375.32,589.2v3M375.32,422.7v2.5M407.48,589.2v3M407.48,422.7v2.5M439.64,589.2v3M439.64,422.7v2.5M471.8,589.2v3M471.8,422.7v2.5M327.08,589.2v1.8M327.08,422.7v1.5M359.24,589.2v1.8M359.24,422.7v1.5M391.4,589.2v1.8M391.4,422.7v1.5M423.56,589.2v1.8M423.56,422.7v1.5M455.72,589.2v1.8M455.72,422.7v1.5M311,578.7h-3M311,551.14h-3M311,523.58h-3M311,496.02h-3M311,468.46h-3M311,440.9h-3M311,564.92h-1.8M311,537.36h-1.8M311,509.8h-1.8M311,482.24h-1.8M311,454.68h-1.8M311,427.12h-1.8M471.8,575h3M471.8,547.42h3M471.8,519.84h3M471.8,492.26h3M471.8,464.68h3M471.8,437.1h3M471.8,588.79h1.8M471.8,561.21h1.8M471.8,533.63h1.8M471.8,506.05h1.8M471.8,478.47h1.8M471.8,450.89h1.8M471.8,423.31h1.8" stroke="#7a7a7a" stroke-width="1" fill="none"/>
<text transform="translate(311,607.5) scale(0.8,1)" font-size="16" font-weight="normal" text-anchor="middle" fill="#151515" >0</text>
<text transform="translate(343.16,607.5) scale(0.8,1)" font-size="16" font-weight="normal" text-anchor="middle" fill="#151515" >1</text>
<text transform="translate(375.32,607.5) scale(0.8,1)" font-size="16" font-weight="normal" text-anchor="middle" fill="#151515" >2</text>
<text transform="translate(407.48,607.5) scale(0.8,1)" font-size="16" font-weight="normal" text-anchor="middle" fill="#151515" >3</text>
<text transform="translate(439.64,607.5) scale(0.8,1)" font-size="16" font-weight="normal" text-anchor="middle" fill="#151515" >4</text>
<text transform="translate(471.8,607.5) scale(0.8,1)" font-size="16" font-weight="normal" text-anchor="middle" fill="#151515" >5</text>
<text transform="translate(306.4,584.2) scale(0.8,1)" font-size="16" font-weight="normal" text-anchor="end" fill="#151515" >-60</text>
<text transform="translate(306.4,556.64) scale(0.8,1)" font-size="16" font-weight="normal" text-anchor="end" fill="#151515" >-45</text>
<text transform="translate(306.4,529.08) scale(0.8,1)" font-size="16" font-weight="normal" text-anchor="end" fill="#151515" >-30</text>
<text transform="translate(306.4,501.52) scale(0.8,1)" font-size="16" font-weight="normal" text-anchor="end" fill="#151515" >-15</text>
<text transform="translate(306.4,473.96) scale(0.8,1)" font-size="16" font-weight="normal" text-anchor="end" fill="#151515" >0</text>
<text transform="translate(306.4,446.4) scale(0.8,1)" font-size="16" font-weight="normal" text-anchor="end" fill="#151515" >15</text>
<text transform="translate(476,580.5) scale(0.8,1)" font-size="16" font-weight="normal" text-anchor="start" fill="#151515" >-1.4</text>
<text transform="translate(476,552.92) scale(0.8,1)" font-size="16" font-weight="normal" text-anchor="start" fill="#151515" >-1.2</text>
<text transform="translate(476,525.34) scale(0.8,1)" font-size="16" font-weight="normal" text-anchor="start" fill="#151515" >-1.0</text>
<text transform="translate(476,497.76) scale(0.8,1)" font-size="16" font-weight="normal" text-anchor="start" fill="#151515" >-0.8</text>
<text transform="translate(476,470.18) scale(0.8,1)" font-size="16" font-weight="normal" text-anchor="start" fill="#151515" >-0.6</text>
<text transform="translate(476,442.6) scale(0.8,1)" font-size="16" font-weight="normal" text-anchor="start" fill="#151515" >-0.4</text>
<text transform="translate(1.2,13.8) scale(0.91,1)" font-size="20" font-weight="normal" text-anchor="start" fill="#151515">A</text>
<text transform="translate(265.4,13.8) scale(0.8,1)" font-size="20" font-weight="normal" text-anchor="start" fill="#151515">B</text>
<text transform="translate(0,220.9) scale(0.83,1)" font-size="20" font-weight="normal" text-anchor="start" fill="#151515">C</text>
<text transform="translate(268.3,222.1) scale(0.85,1)" font-size="20" font-weight="normal" text-anchor="start" fill="#151515">D</text>
<text transform="translate(1.7,432.5) scale(0.76,1)" font-size="20" font-weight="normal" text-anchor="start" fill="#151515">E</text>
<text transform="translate(271.1,434) scale(0.78,1)" font-size="20" font-weight="normal" text-anchor="start" fill="#151515">F</text>
<text transform="translate(12.9,101.35) scale(0.82,1) rotate(-90)" font-size="16" font-weight="bold" text-anchor="middle" fill="#151515" textLength="51.50" lengthAdjust="spacingAndGlyphs">V (mV)</text>
<text transform="translate(280.8,95.5) scale(0.82,1) rotate(-90)" font-size="16" font-weight="bold" text-anchor="middle" fill="#151515" textLength="52.00" lengthAdjust="spacingAndGlyphs">V (mV)</text>
<text transform="translate(14.4,303.4) scale(0.82,1) rotate(-90)" font-size="16" font-weight="bold" text-anchor="middle" fill="#151515" textLength="48.50" lengthAdjust="spacingAndGlyphs">V (mV)</text>
<text transform="translate(277.3,300.3) scale(0.82,1) rotate(-90)" font-size="16" font-weight="bold" text-anchor="middle" fill="#151515" textLength="49.50" lengthAdjust="spacingAndGlyphs">V (mV)</text>
<text transform="translate(9,512.7) scale(0.82,1) rotate(-90)" font-size="16" font-weight="bold" text-anchor="middle" fill="#151515" textLength="49.50" lengthAdjust="spacingAndGlyphs">V (mV)</text>
<text transform="translate(279.9,512) scale(0.82,1) rotate(-90)" font-size="16" font-weight="bold" text-anchor="middle" fill="#151515" textLength="51.50" lengthAdjust="spacingAndGlyphs">V (mV)</text>
<text transform="translate(245,69.6) scale(0.82,1) rotate(90)" font-size="15" font-weight="bold" text-anchor="start" fill="#151515" textLength="27.30" lengthAdjust="spacingAndGlyphs">Reλ</text>
<text transform="translate(239.8,97.8) scale(0.82,1) rotate(90)" font-size="10" font-weight="bold" text-anchor="start" fill="#151515" textLength="19.00" lengthAdjust="spacingAndGlyphs">max</text>
<text transform="translate(505.9,50) scale(0.82,1) rotate(90)" font-size="15" font-weight="bold" text-anchor="start" fill="#151515" textLength="27.70" lengthAdjust="spacingAndGlyphs">Reλ</text>
<text transform="translate(500.7,78.5) scale(0.82,1) rotate(90)" font-size="10" font-weight="bold" text-anchor="start" fill="#151515" textLength="19.30" lengthAdjust="spacingAndGlyphs">max</text>
<text transform="translate(506.2,97) scale(0.82,1) rotate(90)" font-size="15" font-weight="normal" text-anchor="start" fill="#151515" textLength="31.50" lengthAdjust="spacingAndGlyphs">(*10</text>
<text transform="translate(514.3,128.8) scale(0.82,1) rotate(90)" font-size="10" font-weight="normal" text-anchor="start" fill="#151515">-2</text>
<text transform="translate(506.2,138.6) scale(0.82,1) rotate(90)" font-size="15" font-weight="normal" text-anchor="start" fill="#151515">)</text>
<text transform="translate(240.8,256.1) scale(0.82,1) rotate(90)" font-size="15" font-weight="bold" text-anchor="start" fill="#151515" textLength="27.20" lengthAdjust="spacingAndGlyphs">Reλ</text>
<text transform="translate(235.6,284.2) scale(0.82,1) rotate(90)" font-size="10" font-weight="bold" text-anchor="start" fill="#151515" textLength="18.40" lengthAdjust="spacingAndGlyphs">max</text>
<text transform="translate(241.1,301.8) scale(0.82,1) rotate(90)" font-size="15" font-weight="normal" text-anchor="start" fill="#151515" textLength="31.50" lengthAdjust="spacingAndGlyphs">(*10</text>
<text transform="translate(249.2,333.6) scale(0.82,1) rotate(90)" font-size="10" font-weight="normal" text-anchor="start" fill="#151515">-2</text>
<text transform="translate(241.1,343.4) scale(0.82,1) rotate(90)" font-size="15" font-weight="normal" text-anchor="start" fill="#151515">)</text>
<text transform="translate(510.4,277) scale(0.82,1) rotate(90)" font-size="15" font-weight="bold" text-anchor="start" fill="#151515" textLength="26.90" lengthAdjust="spacingAndGlyphs">Reλ</text>
<text transform="translate(505.2,304.5) scale(0.82,1) rotate(90)" font-size="10" font-weight="bold" text-anchor="start" fill="#151515" textLength="19.00" lengthAdjust="spacingAndGlyphs">max</text>
<text transform="translate(240.8,471.4) scale(0.82,1) rotate(90)" font-size="15" font-weight="bold" text-anchor="start" fill="#151515" textLength="27.20" lengthAdjust="spacingAndGlyphs">Reλ</text>
<text transform="translate(235.6,498.6) scale(0.82,1) rotate(90)" font-size="10" font-weight="bold" text-anchor="start" fill="#151515" textLength="19.30" lengthAdjust="spacingAndGlyphs">max</text>
<text transform="translate(241.1,516) scale(0.82,1) rotate(90)" font-size="15" font-weight="normal" text-anchor="start" fill="#151515" textLength="31.50" lengthAdjust="spacingAndGlyphs">(*10</text>
<text transform="translate(249.2,547.8) scale(0.82,1) rotate(90)" font-size="10" font-weight="normal" text-anchor="start" fill="#151515">-3</text>
<text transform="translate(241.1,557.6) scale(0.82,1) rotate(90)" font-size="15" font-weight="normal" text-anchor="start" fill="#151515">)</text>
<text transform="translate(506,454.5) scale(0.82,1) rotate(90)" font-size="15" font-weight="bold" text-anchor="start" fill="#151515" textLength="29.70" lengthAdjust="spacingAndGlyphs">Reλ</text>
<text transform="translate(500.8,485.1) scale(0.82,1) rotate(90)" font-size="10" font-weight="bold" text-anchor="start" fill="#151515" textLength="17.30" lengthAdjust="spacingAndGlyphs">max</text>
<text transform="translate(506.3,502.1) scale(0.82,1) rotate(90)" font-size="15" font-weight="normal" text-anchor="start" fill="#151515" textLength="31.50" lengthAdjust="spacingAndGlyphs">(*10</text>
<text transform="translate(514.4,533.9) scale(0.82,1) rotate(90)" font-size="10" font-weight="normal" text-anchor="start" fill="#151515">-3</text>
<text transform="translate(506.3,543.7) scale(0.82,1) rotate(90)" font-size="15" font-weight="normal" text-anchor="start" fill="#151515">)</text>
<text transform="translate(97.1,205.3) scale(0.85,1)" font-size="13" font-weight="normal" text-anchor="start" fill="#151515">α</text>
<text transform="translate(106.3,205.7)" font-size="15" font-weight="normal" text-anchor="start" fill="#151515">(</text>
<text transform="translate(110.4,205.3)" font-size="13.5" font-weight="bold" text-anchor="start" fill="#151515">G</text>
<text transform="translate(122,212) scale(0.9,1)" font-size="9.5" font-weight="bold" text-anchor="start" fill="#151515">CaL</text>
<text transform="translate(136.1,205.7)" font-size="15" font-weight="normal" text-anchor="start" fill="#151515">)</text>
<text transform="translate(369.2,206.1) scale(0.85,1)" font-size="13" font-weight="normal" text-anchor="start" fill="#151515">α</text>
<text transform="translate(379.8,206.4)" font-size="15" font-weight="normal" text-anchor="start" fill="#151515">(</text>
<text transform="translate(382.5,206.1)" font-size="13.5" font-weight="bold" text-anchor="start" fill="#151515">G</text>
<text transform="translate(394.6,211.9) scale(0.9,1)" font-size="9.5" font-weight="bold" text-anchor="start" fill="#151515">CaT</text>
<text transform="translate(408.2,206.4)" font-size="15" font-weight="normal" text-anchor="start" fill="#151515">)</text>
<text transform="translate(98.8,408.3) scale(0.85,1)" font-size="13" font-weight="normal" text-anchor="start" fill="#151515">α</text>
<text transform="translate(109.9,409.6)" font-size="13.5" font-weight="normal" text-anchor="start" fill="#151515">(</text>
<text transform="translate(112.5,409.2)" font-size="13.5" font-weight="bold" text-anchor="start" fill="#151515">G</text>
<text transform="translate(124.4,415) scale(0.9,1)" font-size="9.5" font-weight="bold" text-anchor="start" fill="#151515">Kr</text>
<text transform="translate(132.4,409.6)" font-size="13.5" font-weight="normal" text-anchor="start" fill="#151515">)</text>
<text transform="translate(372.8,408.8) scale(0.85,1)" font-size="13" font-weight="normal" text-anchor="start" fill="#151515">α</text>
<text transform="translate(383.6,409.5)" font-size="15" font-weight="normal" text-anchor="start" fill="#151515">(</text>
<text transform="translate(386.4,409.6)" font-size="13.5" font-weight="bold" text-anchor="start" fill="#151515">G</text>
<text transform="translate(397.7,415) scale(0.9,1)" font-size="9.5" font-weight="bold" text-anchor="start" fill="#151515">to</text>
<text transform="translate(405.2,409.5)" font-size="15" font-weight="normal" text-anchor="start" fill="#151515">)</text>
<text transform="translate(85,617.3)" font-size="14" font-weight="bold" text-anchor="start" fill="#151515">[K]</text>
<text transform="translate(102.8,622)" font-size="7.5" font-weight="bold" text-anchor="start" fill="#151515">o</text>
<text transform="translate(111,617.3) scale(0.88,1)" font-size="14" font-weight="bold" text-anchor="start" fill="#151515">(mmol)</text>
<text transform="translate(375.6,620.6) scale(0.85,1)" font-size="14" font-weight="normal" text-anchor="start" fill="#151515">α</text>
<text transform="translate(382.6,619.3)" font-size="16" font-weight="normal" text-anchor="start" fill="#151515">(</text>
<text transform="translate(387.4,620.6)" font-size="14" font-weight="normal" text-anchor="start" fill="#151515">τ</text>
<text transform="translate(393.5,626.3) scale(0.85,1)" font-size="9.5" font-weight="bold" text-anchor="start" fill="#151515">fL</text>
<text transform="translate(399.6,619.3)" font-size="16" font-weight="normal" text-anchor="start" fill="#151515">)</text>
</svg></body></html>
